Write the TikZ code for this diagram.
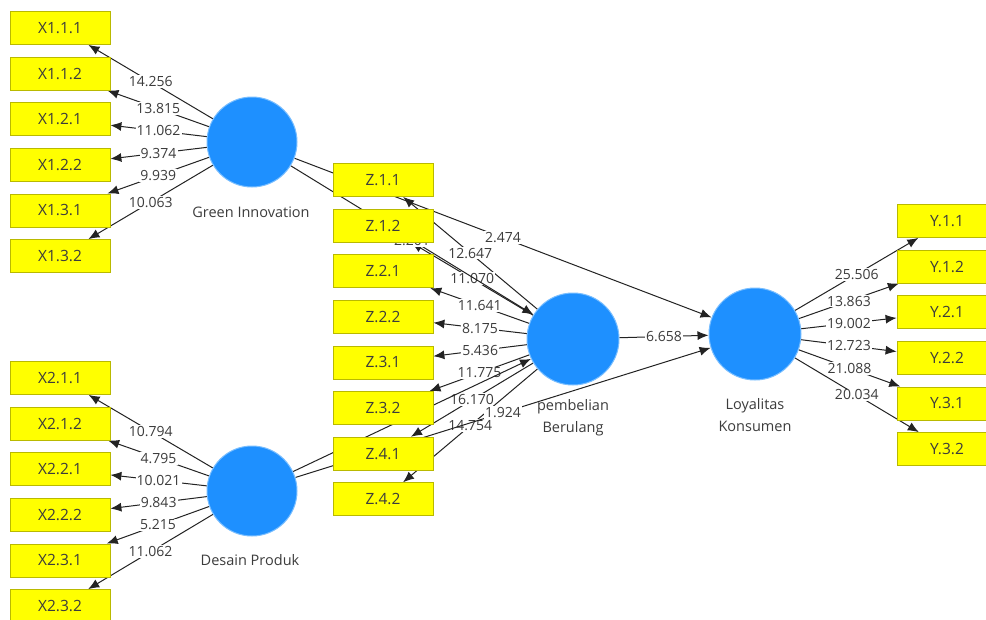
\documentclass[tikz,border=0pt]{standalone}
\usepackage{fontspec}
\setmainfont{Open Sans}
\usetikzlibrary{arrows.meta}
\pgfdeclarelayer{bg}
\pgfdeclarelayer{edges}
\pgfsetlayers{bg,edges,main}
\definecolor{lvblue}{RGB}{30,144,255}
\definecolor{lvrim}{RGB}{120,190,255}
\definecolor{boxyellow}{RGB}{255,255,0}
\definecolor{boxedge}{RGB}{185,185,0}
\definecolor{txt}{RGB}{60,60,60}
\definecolor{linec}{RGB}{35,35,35}
\begin{document}
\begin{tikzpicture}[x=1pt,y=-1pt,
  ind/.style={draw=boxedge, fill=boxyellow, line width=0.8pt, minimum width=100pt, minimum height=33pt, inner sep=0pt, font=\fontsize{15.5}{16}\selectfont, text=txt},
  lv/.style={circle, fill=lvblue, draw=lvrim, line width=1pt, minimum size=90pt, inner sep=0pt},
  lvname/.style={font=\fontsize{14.5}{22}\selectfont, text=txt, align=center, inner sep=1pt},
  conn/.style={-{Latex[length=11pt,width=9pt]}, draw=linec, line width=1pt},
  coef/.style={fill=white, inner sep=1.2pt, font=\fontsize{14}{14}\selectfont, text=txt},
]
\useasboundingbox (0,0) rectangle (986,619);
\begin{pgfonlayer}{bg}
\fill[white] (0,0) rectangle (986,619);
\end{pgfonlayer}

% latent variables
\node[lv] (gi) at (252,142) {};
\node[lvname] (giname) at (251,212) {Green Innovation};
\node[lv] (dp) at (252,491) {};
\node[lvname] (dpname) at (250,560) {Desain Produk};
\node[lv, minimum size=92pt] (pb) at (573,339) {};
\node[lvname] (pbname) at (573,418) {pembelian\\Berulang};
\node[lv, minimum size=92pt] (lk) at (755,334) {};
\node[lvname] (lkname) at (755,415) {Loyalitas\\Konsumen};

% indicators
\foreach \t [count=\i] in {X1.1.1,X1.1.2,X1.2.1,X1.2.2,X1.3.1,X1.3.2}
  \node[ind] (xa\i) at (60,{28+45.6*(\i-1)}) {\t};
\foreach \t [count=\i] in {X2.1.1,X2.1.2,X2.2.1,X2.2.2,X2.3.1,X2.3.2}
  \node[ind] (xb\i) at (60,{378+45.6*(\i-1)}) {\t};
\foreach \t [count=\i] in {Z.1.1,Z.1.2,Z.2.1,Z.2.2,Z.3.1,Z.3.2,Z.4.1,Z.4.2}
  \node[ind] (z\i) at (383,{180+45.6*(\i-1)}) {\t};
\foreach \t [count=\i] in {Y.1.1,Y.1.2,Y.2.1,Y.2.2,Y.3.1,Y.3.2}
  \node[ind] (y\i) at (947,{221+45.6*(\i-1)}) {\t};

\begin{pgfonlayer}{edges}
% outer model
\foreach \v [count=\i] in {14.256,13.815,11.062,9.374,9.939,10.063}
  \draw[conn] (gi) -- node[coef]{\v} (xa\i);
\foreach \v [count=\i] in {10.794,4.795,10.021,9.843,5.215,11.062}
  \draw[conn] (dp) -- node[coef]{\v} (xb\i);
\foreach \v [count=\i] in {12.647,11.070,11.641,8.175,5.436,11.775,16.170,14.754}
  \draw[conn] (pb) -- node[coef]{\v} (z\i);
\foreach \v [count=\i] in {25.506,13.863,19.002,12.723,21.088,20.034}
  \draw[conn] (lk) -- node[coef]{\v} (y\i);
% inner model
\draw[conn] (gi) -- node[coef]{2.201} (pb);
\draw[conn] (gi) -- node[coef]{2.474} (lk);
\draw[conn] (dp) -- (pb);
\draw[conn] (dp) -- node[coef]{1.924} (lk);
\draw[conn] (pb) -- node[coef]{6.658} (lk);
\end{pgfonlayer}
\end{tikzpicture}
\end{document}
